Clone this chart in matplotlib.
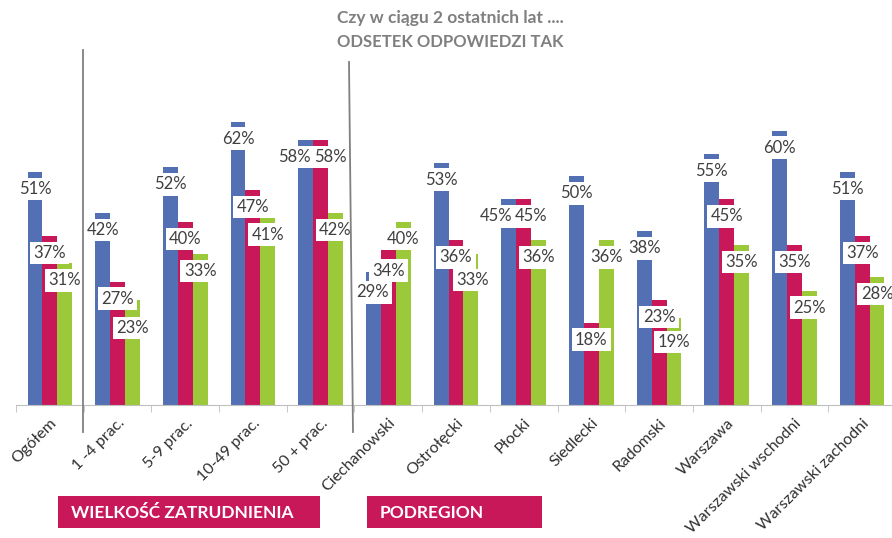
import matplotlib
matplotlib.use('Agg')
import matplotlib.pyplot as plt
from matplotlib.lines import Line2D
from matplotlib.patches import Rectangle
import numpy as np

categories = ['Ogółem', '1 -4 prac.', '5-9 prac.', '10-49 prac.', '50 + prac.',
              'Ciechanowski', 'Ostrołęcki', 'Płocki', 'Siedlecki', 'Radomski',
              'Warszawa', 'Warszawski wschodni', 'Warszawski zachodni']
blue_vals = [51, 42, 52, 62, 58, 29, 53, 45, 50, 38, 55, 60, 51]
red_vals = [37, 27, 40, 47, 58, 34, 36, 45, 18, 23, 45, 35, 37]
green_vals = [31, 23, 33, 41, 42, 40, 33, 36, 36, 19, 35, 25, 28]

colors = ['#5470B5', '#C8185A', '#9BC93A']
W, H = 892, 538

# labels that were dragged by hand in the original: (series, category) -> (dx, dy) pixels
label_moves = {(0, 4): (-11, -17), (1, 4): (10, -17),
               (0, 7): (-13, -17), (1, 7): (7, -17),
               (2, 1): (0, -28), (2, 6): (2, -26), (2, 9): (0, -24),
               (0, 5): (-1, -20), (1, 5): (0, -21)}

plt.rcParams['font.family'] = ['Lato', 'DejaVu Sans']
fig = plt.figure(figsize=(W / 100, H / 100), dpi=100)
ax = fig.add_axes([16 / W, (H - 405) / H, 880 / W, 320 / H])

x = np.arange(len(categories))
bw = 0.22
series = [blue_vals, red_vals, green_vals]
for k, vals in enumerate(series):
    ax.bar(x + (k - 1) * bw, vals, bw, color=colors[k], zorder=2)

# data labels with white boxes (inside end, like Excel)
for k, vals in enumerate(series):
    for i, v in enumerate(vals):
        dx, dy = label_moves.get((k, i), (0, -17))
        ax.annotate(f'{v}%', (x[i] + (k - 1) * bw, v), xytext=(dx, dy),
                    textcoords='offset pixels', ha='center', va='center',
                    fontsize=12, color='#404040', zorder=5,
                    bbox=dict(boxstyle='square,pad=0.2', fc='white', ec='none'))

ax.set_xlim(-0.5, len(categories) - 0.5)
ax.set_ylim(0, 70)
ax.set_yticks([])
for s in ['top', 'right', 'left']:
    ax.spines[s].set_visible(False)
ax.spines['bottom'].set_color('#bfbfbf')
ax.set_xticks(x)
ax.set_xticklabels(categories, rotation=45, ha='right', rotation_mode='anchor',
                   fontsize=11.5, color='#303030')
ax.tick_params(axis='x', which='major', length=0, pad=8)
ax.set_xticks(np.arange(-0.5, len(categories)), minor=True)
ax.tick_params(axis='x', which='minor', length=5, color='#bfbfbf')

# separators between groups
def px(xp, yp):
    return xp / W, 1 - yp / H

for (x0, y0), (x1, y1) in [((83, 50), (83, 432)), ((349, 62), (353, 432))]:
    a, b = px(x0, y0)
    c, d = px(x1, y1)
    fig.add_artist(Line2D([a, c], [b, d], color='#808080', lw=1.3))

# title
fig.text(450 / W, 1 - 18 / H, 'Czy w ciągu 2 ostatnich lat ....', ha='center', va='center',
         fontsize=12.5, fontweight='bold', color='#7f7f7f')
fig.text(450 / W, 1 - 42 / H, 'ODSETEK ODPOWIEDZI TAK', ha='center', va='center',
         fontsize=12, fontweight='bold', color='#7f7f7f')

# group boxes
for text, x0, x1 in [('WIELKOŚĆ ZATRUDNIENIA', 58, 320), ('PODREGION', 367, 542)]:
    a, b = px(x0, 528)
    fig.add_artist(Rectangle((a, b), (x1 - x0) / W, 32 / H, transform=fig.transFigure,
                             facecolor='#C8185A', edgecolor='none'))
    fig.text((x0 + 13) / W, 1 - 513 / H, text, ha='left', va='center',
             fontsize=12.5, fontweight='bold', color='white')

fig.savefig('out.png', dpi=100)
